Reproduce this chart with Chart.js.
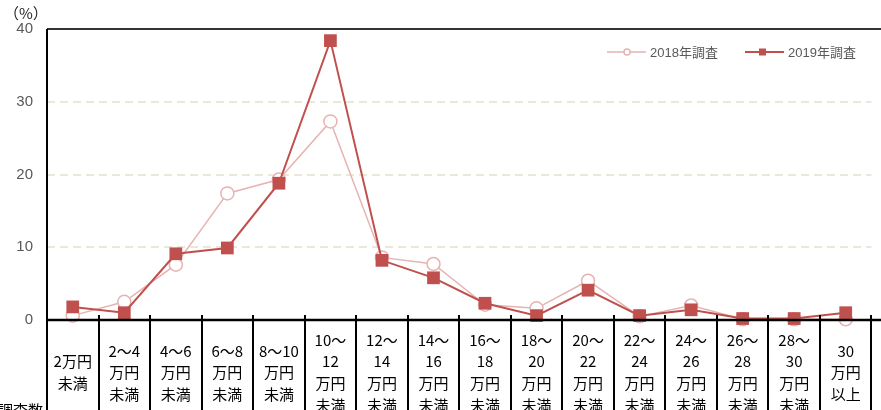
<!DOCTYPE html>
<html>
<head>
<meta charset="utf-8">
<script src="https://cdn.jsdelivr.net/npm/chart.js@4/dist/chart.umd.min.js"></script>
<style>
  html, body { margin: 0; padding: 0; background: #fff; }
  #wrap { width: 881px; height: 410px; position: relative; }
</style>
</head>
<body>
<div id="wrap"><canvas id="chart"></canvas></div>
<script>
const categories = [
  ['2万円', '未満'],
  ['2〜4', '万円', '未満'],
  ['4〜6', '万円', '未満'],
  ['6〜8', '万円', '未満'],
  ['8〜10', '万円', '未満'],
  ['10〜', '12', '万円', '未満'],
  ['12〜', '14', '万円', '未満'],
  ['14〜', '16', '万円', '未満'],
  ['16〜', '18', '万円', '未満'],
  ['18〜', '20', '万円', '未満'],
  ['20〜', '22', '万円', '未満'],
  ['22〜', '24', '万円', '未満'],
  ['24〜', '26', '万円', '未満'],
  ['26〜', '28', '万円', '未満'],
  ['28〜', '30', '万円', '未満'],
  ['30', '万円', '以上']
];
const survey2018 = [0.6, 2.5, 7.6, 17.4, 19.3, 27.3, 8.6, 7.7, 2.1, 1.6, 5.4, 0.5, 2.0, 0.1, 0.1, 0.1];
const survey2019 = [1.8, 1.0, 9.1, 9.9, 18.8, 38.4, 8.2, 5.8, 2.3, 0.6, 4.1, 0.6, 1.4, 0.2, 0.2, 1.0];
const yTicks = [0, 10, 20, 30, 40];

const color2018 = '#e6b3b2';
const color2019 = '#c0504d';
const fontFamily = "'Liberation Sans', 'Noto Sans CJK JP', sans-serif";

// table lines, axis lines, title, legend
const extras = {
  id: 'extras',
  afterDraw(chart) {
    const ctx = chart.ctx;
    const a = chart.chartArea;
    const x = chart.scales.x;
    ctx.save();

    // top border
    ctx.strokeStyle = '#333';
    ctx.lineWidth = 2;
    ctx.beginPath();
    ctx.moveTo(a.left, a.top);
    ctx.lineTo(chart.width, a.top);
    ctx.stroke();

    // category separators: short tick inside + table lines below
    ctx.strokeStyle = '#000';
    for (let i = 0; i <= categories.length; i++) {
      const px = Math.round(x.getPixelForValue(i - 0.5));
      ctx.beginPath();
      ctx.moveTo(px, i === 0 ? a.top : a.bottom - 5);
      ctx.lineTo(px, chart.height);
      ctx.stroke();
    }

    // bottom axis
    ctx.lineWidth = 2.5;
    ctx.beginPath();
    ctx.moveTo(a.left, a.bottom);
    ctx.lineTo(chart.width, a.bottom);
    ctx.stroke();

    // unit
    ctx.fillStyle = '#222';
    ctx.font = "15px 'Noto Sans CJK JP', sans-serif";
    ctx.textBaseline = 'middle';
    ctx.textAlign = 'left';
    ctx.fillText('（%）', 4, 13);

    // row header, cut off at the bottom
    ctx.fillStyle = '#000';
    ctx.font = "15px 'Noto Sans CJK JP', sans-serif";
    ctx.textBaseline = 'top';
    ctx.fillText('調査数', -2, 403);

    // legend
    const items = [
      { label: '2018年調査', color: color2018, x: 607, square: false },
      { label: '2019年調査', color: color2019, x: 745, square: true }
    ];
    const ly = 52;
    ctx.font = '13px ' + fontFamily;
    ctx.textBaseline = 'middle';
    items.forEach(it => {
      ctx.strokeStyle = it.color;
      ctx.lineWidth = it.square ? 2 : 1.5;
      ctx.beginPath();
      ctx.moveTo(it.x, ly);
      ctx.lineTo(it.x + 39, ly);
      ctx.stroke();
      if (it.square) {
        ctx.fillStyle = it.color;
        ctx.fillRect(it.x + 14, ly - 3.5, 7, 7);
      } else {
        ctx.fillStyle = '#fff';
        ctx.lineWidth = 1.5;
        ctx.beginPath();
        ctx.arc(it.x + 20, ly, 3, 0, Math.PI * 2);
        ctx.fill();
        ctx.stroke();
      }
      ctx.fillStyle = '#595959';
      ctx.fillText(it.label, it.x + 43, ly + 1);
    });

    ctx.restore();
  }
};

new Chart(document.getElementById('chart'), {
  type: 'line',
  data: {
    labels: categories,
    datasets: [{
      label: '2018年調査',
      data: survey2018,
      borderColor: color2018,
      borderWidth: 1.5,
      pointStyle: 'circle',
      pointRadius: 6.5,
      pointBorderWidth: 1.5,
      pointBackgroundColor: '#fff',
      pointBorderColor: color2018,
      tension: 0,
      clip: false,
      order: 1
    }, {
      label: '2019年調査',
      data: survey2019,
      borderColor: color2019,
      borderWidth: 2,
      pointStyle: 'rect',
      pointRadius: 9,
      pointBorderWidth: 0,
      pointBackgroundColor: color2019,
      pointBorderColor: color2019,
      tension: 0,
      clip: false,
      order: 0
    }]
  },
  options: {
    responsive: true,
    maintainAspectRatio: false,
    animation: false,
    layout: { padding: { top: 29, right: 0, bottom: 0, left: 0 } },
    plugins: {
      legend: { display: false },
      tooltip: { enabled: false }
    },
    scales: {
      x: {
        offset: true,
        grid: { display: false, drawTicks: false },
        border: { display: false },
        ticks: {
          autoSkip: false,
          maxRotation: 0,
          crossAlign: 'center',
          padding: 20,
          color: '#000',
          font: { family: "'Noto Sans CJK JP', sans-serif", size: 15, lineHeight: 1.45 }
        },
        afterFit: scale => { scale.height = 90; }
      },
      y: {
        min: 0,
        max: 40,
        afterBuildTicks: scale => { scale.ticks = yTicks.map(v => ({ value: v })); },
        grid: {
          color: ctx => ctx.tick.value === 0 ? 'rgba(0,0,0,0)' : '#ebe7d9',
          lineWidth: 2,
          drawTicks: false
        },
        border: { display: false, dash: [8, 5] },
        ticks: {
          padding: 14,
          color: '#595959',
          font: { family: fontFamily, size: 15 }
        },
        afterFit: scale => { scale.width = 47; }
      }
    }
  },
  plugins: [extras]
});
</script>
</body>
</html>
